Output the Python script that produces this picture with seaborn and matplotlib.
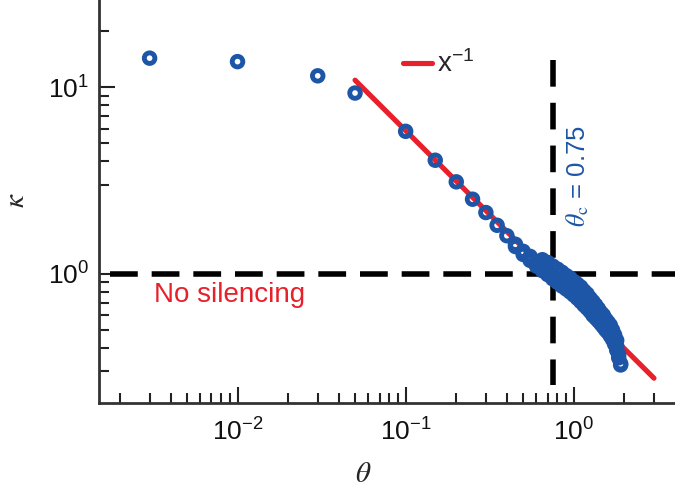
import matplotlib
matplotlib.use('Agg')
import matplotlib.pyplot as plt
import matplotlib.ticker as mticker
import seaborn as sns

# measured silencing ratio kappa against threshold theta
theta = [0.003, 0.01, 0.03, 0.05, 0.1, 0.15, 0.2, 0.25, 0.3, 0.35,
         0.4, 0.45, 0.5, 0.55, 0.6, 0.65, 0.7, 0.75, 0.8, 0.85,
         0.9, 0.95, 1.0, 1.05, 1.1, 1.15, 1.2, 1.25, 1.3, 1.35,
         1.4, 1.45, 1.5, 1.55, 1.6, 1.65, 1.7, 1.75, 1.8, 1.85, 1.9]
kappa = [14.3, 13.7, 11.5, 9.3, 5.8, 4.06, 3.11, 2.51, 2.13, 1.82,
         1.60, 1.44, 1.32, 1.24, 1.16, 1.10, 1.05, 0.99, 0.95, 0.91,
         0.87, 0.84, 0.81, 0.78, 0.75, 0.72, 0.69, 0.66, 0.63, 0.61,
         0.59, 0.57, 0.55, 0.53, 0.51, 0.49, 0.47, 0.44, 0.41, 0.37, 0.33]

# replicate runs in the dense part (upper and lower edge of the cloud)
theta_hi = [0.65, 0.7, 0.75, 0.8, 0.85, 0.9, 0.95, 1.0,
            1.05, 1.1, 1.15, 1.2, 1.25, 1.3, 1.35, 1.4, 1.45, 1.5,
            1.55, 1.6, 1.65, 1.7, 1.75, 1.8]
kappa_hi = [1.19, 1.15, 1.10, 1.06, 1.02, 0.98, 0.95, 0.91,
            0.88, 0.85, 0.81, 0.78, 0.74, 0.71, 0.68, 0.65, 0.62, 0.60,
            0.57, 0.55, 0.53, 0.50, 0.47, 0.44]
theta_lo = [0.45, 0.5, 0.55, 0.6, 0.65, 0.7, 0.75, 0.8, 0.85, 0.9,
            0.95, 1.0, 1.05, 1.1, 1.15, 1.2, 1.25, 1.3, 1.35, 1.4,
            1.45, 1.5, 1.55, 1.6, 1.65, 1.7, 1.75, 1.8, 1.85, 1.9]
kappa_lo = [1.40, 1.27, 1.18, 1.10, 1.04, 0.99, 0.94, 0.90, 0.86, 0.83,
            0.80, 0.77, 0.74, 0.71, 0.68, 0.655, 0.63, 0.60, 0.58, 0.56,
            0.54, 0.52, 0.50, 0.485, 0.465, 0.445, 0.42, 0.39, 0.355, 0.325]

# x^-1 guide line (end points)
fit_theta = [0.05, 3.0]
fit_kappa = [10.9, 0.276]

theta_c = 0.75
theta_c_span = [13.9, 0.253]
no_silencing = 1.0

x_minor = [0.002, 0.003, 0.004, 0.005, 0.006, 0.007, 0.008, 0.009,
           0.02, 0.03, 0.04, 0.05, 0.06, 0.07, 0.08, 0.09,
           0.2, 0.3, 0.4, 0.5, 0.6, 0.7, 0.8, 0.9, 2, 3]
y_minor = [0.3, 0.4, 0.5, 0.6, 0.7, 0.8, 0.9, 3, 4, 5, 6, 7, 8, 9, 20]

BLUE = '#1d56a6'
RED = '#e8202a'

sns.set_style('ticks')
plt.rcParams['font.family'] = ['Liberation Sans', 'DejaVu Sans']
plt.rcParams['mathtext.fontset'] = 'stix'

fig = plt.figure(figsize=(6.75, 4.99), dpi=100)
ax = fig.add_axes([99 / 675, 1 - 402.7 / 499, 1 - 99 / 675, 402.7 / 499])

all_theta = theta + theta_hi + theta_lo
all_kappa = kappa + kappa_hi + kappa_lo

sns.lineplot(x=fit_theta, y=fit_kappa, color=RED, lw=3.7, ax=ax,
             label=r'$\mathregular{x^{-1}}$', zorder=2)
sns.scatterplot(x=all_theta, y=all_kappa, marker='o', s=58, color=BLUE,
                facecolor='none', edgecolor=BLUE, linewidth=3.5,
                ax=ax, zorder=3, legend=False)

ax.axhline(no_silencing, xmin=0.019, xmax=1, color='k', lw=4,
           dashes=(5, 2.5), zorder=1)
ax.plot([theta_c, theta_c], theta_c_span, color='k', lw=4,
        dashes=(4.8, 2.9), zorder=1)

ax.set_xscale('log')
ax.set_yscale('log')
ax.set_xlim(0.0015, 4.0)
ax.set_ylim(0.204, 29.3)

ax.xaxis.set_major_locator(mticker.FixedLocator([0.01, 0.1, 1]))
ax.yaxis.set_major_locator(mticker.FixedLocator([1, 10]))
ax.xaxis.set_minor_locator(mticker.FixedLocator(x_minor))
ax.yaxis.set_minor_locator(mticker.FixedLocator(y_minor))
ax.xaxis.set_major_formatter(mticker.LogFormatterSciNotation())
ax.yaxis.set_major_formatter(mticker.LogFormatterSciNotation())
ax.xaxis.set_minor_formatter(mticker.NullFormatter())
ax.yaxis.set_minor_formatter(mticker.NullFormatter())

ax.tick_params(which='both', direction='in', width=1.5, color='#222222',
               labelsize=19, labelcolor='#111111')
ax.tick_params(which='major', length=11.5)
ax.tick_params(which='minor', length=7)
ax.tick_params(axis='y', which='major', pad=7)
ax.tick_params(axis='x', which='major', pad=11)
sns.despine(ax=ax)
for s in ['left', 'bottom']:
    ax.spines[s].set_linewidth(2)
    ax.spines[s].set_color('#333333')

ax.set_xlabel(r'$\theta$', fontsize=21)
ax.set_ylabel(r'$\kappa$', fontsize=21)
ax.xaxis.set_label_coords(0.458, -0.142)
ax.yaxis.set_label_coords(-0.12, 0.503)

ax.text(0.0032, 0.77, 'No silencing', color=RED, fontsize=20,
        ha='left', va='center')
ax.text(1.06, 3.34, r'$\theta_{\rm c}$ = 0.75', color=BLUE, fontsize=18.5,
        rotation=90, ha='center', va='center')

ax.legend(loc='center left', bbox_to_anchor=(0.527, 0.84), frameon=False,
          fontsize=20, handlelength=1.05, handletextpad=0.2, borderpad=0,
          borderaxespad=0)

fig.savefig('out.png', dpi=100)
